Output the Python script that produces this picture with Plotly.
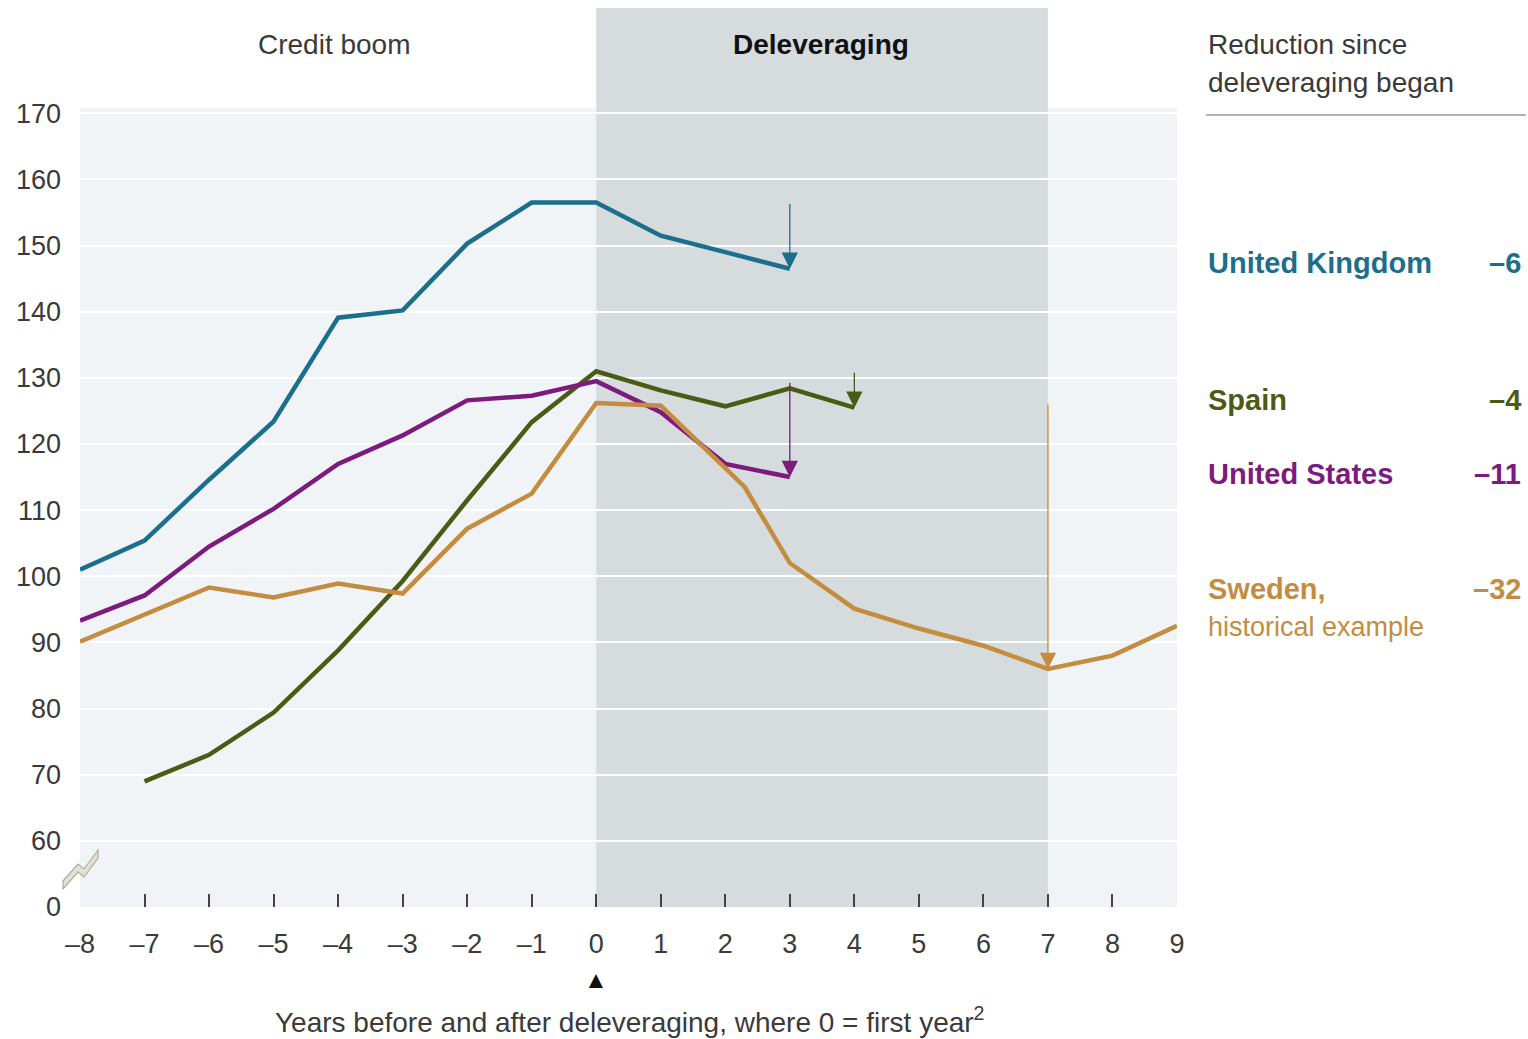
import plotly.graph_objects as go

# Household debt as % of disposable income, years relative to start of deleveraging
years_uk = [-8, -7, -6, -5, -4, -3, -2, -1, 0, 1, 2, 3]
debt_uk = [101, 105.4, 114.6, 123.4, 139.1, 140.2, 150.3, 156.5, 156.5, 151.5, 149, 146.5]

years_es = [-7, -6, -5, -4, -3, -2, -1, 0, 1, 2, 3, 4]
debt_es = [69, 73, 79.4, 88.8, 99.3, 111.5, 123.3, 131, 128.1, 125.7, 128.4, 125.5]

years_us = [-8, -7, -6, -5, -4, -3, -2, -1, 0, 1, 2, 3]
debt_us = [93.3, 97.1, 104.5, 110.2, 117, 121.3, 126.6, 127.3, 129.5, 124.8, 117, 115]

years_se = [-8, -7, -6, -5, -4, -3, -2, -1, 0, 1, 2.3, 3, 4, 5, 6, 7, 8, 9]
debt_se = [90.1, 94.2, 98.3, 96.8, 98.9, 97.4, 107.2, 112.5, 126.2, 125.8, 113.5, 102,
           95.1, 92.1, 89.5, 86, 88, 92.5]

# Last year of deleveraging shown by each arrow
arrow_end_year = {"uk": 3, "es": 4, "us": 3, "se": 7}

x_ticks = list(range(-8, 10))
x_ticktext = [("–" + str(-v)) if v < 0 else str(v) for v in x_ticks]
y_ticks = [50, 60, 70, 80, 90, 100, 110, 120, 130, 140, 150, 160, 170]
y_ticktext = ["0"] + [str(v) for v in y_ticks[1:]]

FONT = "Liberation Sans, Arial, Helvetica, sans-serif"
TEXT = "#3a3a3a"
C_UK = "#1c6f8c"
C_ES = "#4b5b14"
C_US = "#7d1a7e"
C_SE = "#c48c3e"

W, H = 1528, 1039
ML, MR, MT, MB = 80, 351, 108, 132
PW, PH = W - ML - MR, H - MT - MB


def px_x(p):
    return (p - ML) / PW


def px_y(p):
    return (H - MB - p) / PH


series = [
    ("uk", "United Kingdom", years_uk, debt_uk, C_UK),
    ("es", "Spain", years_es, debt_es, C_ES),
    ("us", "United States", years_us, debt_us, C_US),
    ("se", "Sweden,", years_se, debt_se, C_SE),
]

fig = go.Figure()
for key, name, xs, ys, col in series:
    fig.add_trace(go.Scatter(x=xs, y=ys, mode="lines", name=name,
                             line=dict(color=col, width=4.5), showlegend=False))

annotations = []
shapes = []

# Deleveraging band (year 0 to year 7), extending above the plot
shapes.append(dict(type="rect", xref="x", yref="paper", x0=0, x1=7, y0=0, y1=px_y(8),
                   fillcolor="#d6dbde", line=dict(width=0), layer="below"))

# Arrows from the year-0 level down to the final level, plus side labels
label_rows = {"uk": 263, "es": 400, "us": 474, "se": 589}
for key, name, xs, ys, col in series:
    start = ys[xs.index(0)]
    xe = arrow_end_year[key]
    end = ys[xs.index(xe)]
    annotations.append(dict(x=xe, y=end, ax=xe, ay=start, xref="x", yref="y",
                            axref="x", ayref="y", showarrow=True, arrowhead=2,
                            arrowsize=2.5, arrowwidth=1.3, arrowcolor=col, text=""))
    change = round(100 * (end / start - 1))
    annotations.append(dict(x=px_x(1206), y=px_y(label_rows[key]), xref="paper", yref="paper",
                            xanchor="left", yanchor="middle", showarrow=False,
                            text="<b>" + name + "</b>",
                            font=dict(family=FONT, size=29, color=col)))
    annotations.append(dict(x=px_x(1523), y=px_y(label_rows[key]), xref="paper", yref="paper",
                            xanchor="right", yanchor="middle", showarrow=False,
                            text="<b>–" + str(abs(change)) + "</b>",
                            font=dict(family=FONT, size=29, color=col)))

annotations.append(dict(x=px_x(1206), y=px_y(627), xref="paper", yref="paper",
                        xanchor="left", yanchor="middle", showarrow=False,
                        text="historical example",
                        font=dict(family=FONT, size=27, color=C_SE)))

# Headings
annotations.append(dict(x=px_x(334), y=px_y(45), xref="paper", yref="paper", xanchor="center",
                        yanchor="middle", showarrow=False, text="Credit boom",
                        font=dict(family=FONT, size=28, color=TEXT)))
annotations.append(dict(x=px_x(821), y=px_y(45), xref="paper", yref="paper", xanchor="center",
                        yanchor="middle", showarrow=False, text="<b>Deleveraging</b>",
                        font=dict(family=FONT, size=28, color="#111")))

for txt, py in [("Reduction since", 45), ("deleveraging began", 83)]:
    annotations.append(dict(x=px_x(1206), y=px_y(py), xref="paper", yref="paper",
                            xanchor="left", yanchor="middle", showarrow=False, text=txt,
                            font=dict(family=FONT, size=28, color=TEXT)))
shapes.append(dict(type="line", xref="paper", yref="paper", x0=px_x(1206), x1=px_x(1526),
                   y0=px_y(115), y1=px_y(115), line=dict(color="#9a9a9a", width=1.5)))

# Year-0 marker and axis caption
annotations.append(dict(x=0, y=px_y(980), xref="x", yref="paper", showarrow=False,
                        xanchor="center", yanchor="middle", text="▲",
                        font=dict(family=FONT, size=24, color="#111")))
annotations.append(dict(x=px_x(630), y=px_y(1020), xref="paper", yref="paper", showarrow=False,
                        xanchor="center", yanchor="middle",
                        text="Years before and after deleveraging, where 0 = first year<sup>2</sup>",
                        font=dict(family=FONT, size=28, color=TEXT)))

# Axis break symbol between 0 and 60
zig = [(63, 885), (78, 868), (84, 873), (98, 854)]
off = 4
upper = [(px, py - off) for px, py in zig]
lower = [(px, py + off) for px, py in reversed(zig)]
pts = upper + lower
path = "M " + " L ".join(f"{px_x(a):.5f},{px_y(b):.5f}" for a, b in pts) + " Z"
shapes.append(dict(type="path", xref="paper", yref="paper", path=path,
                   fillcolor="#e3e1d3", line=dict(color="#aeac9c", width=1.2), layer="above"))

fig.update_layout(
    width=W, height=H,
    margin=dict(l=ML, r=MR, t=MT, b=MB, pad=0),
    paper_bgcolor="white",
    plot_bgcolor="#f1f4f7",
    font=dict(family=FONT, size=27, color=TEXT),
    shapes=shapes,
    annotations=annotations,
    showlegend=False,
)
fig.update_xaxes(range=[-8, 9], tickvals=x_ticks, ticktext=x_ticktext, ticks="",
                 showgrid=False, zeroline=False, showline=False,
                 tickfont=dict(family=FONT, size=27, color=TEXT), ticklabelstandoff=18,
                 minor=dict(tickvals=x_ticks[1:-1], ticks="inside", ticklen=13, tickwidth=1.5,
                            tickcolor="#444", showgrid=False))
fig.update_yaxes(range=[50, 170.8], tickvals=y_ticks, ticktext=y_ticktext, ticks="",
                 showgrid=True, gridcolor="white", gridwidth=2, zeroline=False, showline=False,
                 tickfont=dict(family=FONT, size=27, color=TEXT), ticklabelstandoff=18)

fig.write_html("out.html")
